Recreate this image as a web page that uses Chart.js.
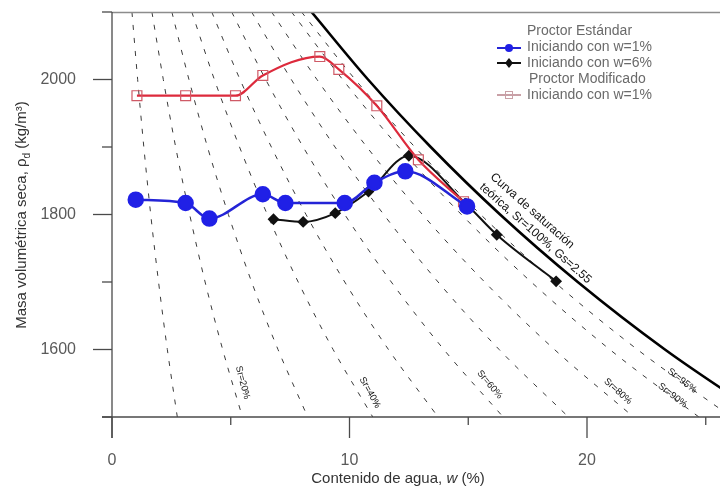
<!DOCTYPE html>
<html><head><meta charset="utf-8">
<script src="https://cdn.jsdelivr.net/npm/chart.js@4/dist/chart.umd.min.js"></script>
<style>html,body{margin:0;padding:0;background:#fff;}#wrap{width:720px;height:491px;position:relative;}</style>
</head><body><div id="wrap"><canvas id="c" width="720" height="491"></canvas></div>
<script>
// ---- data ----
const densityLevels = [2100, 2000, 1900, 1800, 1700, 1600, 1500];
const wSr10  = [0.84, 1.08, 1.34, 1.63, 1.96, 2.33, 2.75];
const wSr20  = [1.68, 2.16, 2.68, 3.27, 3.92, 4.66, 5.49];
const wSr30  = [2.52, 3.24, 4.02, 4.90, 5.88, 6.99, 8.24];
const wSr40  = [3.36, 4.31, 5.37, 6.54, 7.84, 9.31, 10.98];
const wSr50  = [4.20, 5.39, 6.71, 8.17, 9.80, 11.64, 13.73];
const wSr60  = [5.04, 6.47, 8.05, 9.80, 11.76, 13.97, 16.47];
const wSr70  = [5.88, 7.55, 9.39, 11.44, 13.73, 16.30, 19.22];
const wSr80  = [6.72, 8.63, 10.73, 13.07, 15.69, 18.63, 21.96];
const wSr90  = [7.56, 9.71, 12.07, 14.71, 17.65, 20.96, 24.71];
const wSr95  = [7.98, 10.24, 12.75, 15.52, 18.63, 22.12, 26.08];
const wSr100 = [8.40, 10.78, 13.42, 16.34, 19.61, 23.28, 27.45];

const stdW1Water   = [1.0, 3.1, 4.1, 6.35, 7.3, 9.8, 11.05, 12.35, 14.95];
const stdW1Density = [1822, 1817, 1794, 1830, 1817, 1817, 1847, 1864, 1812];
const stdW6Water   = [6.8, 8.05, 9.4, 10.8, 12.5, 14.9, 16.2, 18.7];
const stdW6Density = [1793, 1789, 1802, 1834, 1887, 1816, 1770, 1701];
const modW1Water   = [1.05, 3.1, 5.2, 6.35, 8.75, 9.55, 11.15, 12.9, 14.8];
const modW1Density = [1976, 1976, 1976, 2006, 2034, 2015, 1961, 1881, 1819];

const xTickValues = [0, 5, 10, 15, 20, 25];
const xTickLabels = [0, 10, 20];
const yTickValues = [1500, 1600, 1700, 1800, 1900, 2000, 2100];
const yTickLabels = [1600, 1800, 2000];

const dashedCurves = [wSr10, wSr20, wSr30, wSr40, wSr50, wSr60, wSr70, wSr80, wSr90, wSr95];
const srLabels = ['Sr=20%', 'Sr=40%', 'Sr=60%', 'Sr=80%', 'Sr=90%', 'Sr=95%'];

// ---- helpers ----
function pts(xs, ys) { return xs.map((v, i) => ({ x: v, y: ys[i] })); }
const FONT = '"Liberation Sans", Arial, sans-serif';

const datasets = [];
datasets.push({
  label: 'Iniciando con w=1% (Estándar)', data: pts(stdW1Water, stdW1Density), showLine: true,
  borderColor: '#2424d6', backgroundColor: '#2020e6', pointBorderColor: '#2020e6',
  borderWidth: 2.5, pointRadius: 7, pointStyle: 'circle', cubicInterpolationMode: 'monotone', order: 1
});
datasets.push({
  label: 'Iniciando con w=1% (Modificado)', data: pts(modW1Water, modW1Density), showLine: true,
  borderColor: '#dd2a3c', backgroundColor: 'rgba(255,255,255,0)', pointBorderColor: '#cf5a66',
  pointBorderWidth: 1.2, borderWidth: 2.2, pointRadius: 7, pointStyle: 'rect', cubicInterpolationMode: 'monotone', order: 2
});
datasets.push({
  label: 'Iniciando con w=6%', data: pts(stdW6Water, stdW6Density), showLine: true,
  borderColor: '#111', backgroundColor: '#111', pointBorderColor: '#111',
  borderWidth: 2, pointRadius: 4.5, pointStyle: 'rectRot', cubicInterpolationMode: 'monotone', order: 3
});
datasets.push({
  label: 'Sr=100%', data: pts(wSr100, densityLevels), showLine: true,
  borderColor: '#000', borderWidth: 2.6, pointRadius: 0, cubicInterpolationMode: 'monotone', order: 4
});
dashedCurves.forEach((ws, i) => {
  datasets.push({
    label: 'Sr' + i, data: pts(ws, densityLevels), showLine: true,
    borderColor: '#3a3a3a', borderWidth: 1, borderDash: [5, 8], pointRadius: 0,
    cubicInterpolationMode: 'monotone', order: 5
  });
});

const custom = {
  id: 'custom',
  afterDraw(chart) {
    const { ctx, chartArea: a, scales: { x, y } } = chart;
    ctx.save();
    // frame top
    ctx.strokeStyle = '#8c8c8c'; ctx.lineWidth = 1.5;
    ctx.beginPath(); ctx.moveTo(a.left, a.top + 0.5); ctx.lineTo(a.right, a.top + 0.5); ctx.stroke();
    // axes
    ctx.strokeStyle = '#4a4a4a'; ctx.lineWidth = 1.3;
    ctx.beginPath(); ctx.moveTo(a.left, a.top); ctx.lineTo(a.left, a.bottom + 21); ctx.stroke();
    ctx.beginPath(); ctx.moveTo(a.left - 10, a.bottom); ctx.lineTo(a.right, a.bottom); ctx.stroke();
    xTickValues.forEach(v => {
      const px = x.getPixelForValue(v);
      const len = xTickLabels.includes(v) ? 21 : 8;
      ctx.beginPath(); ctx.moveTo(px, a.bottom); ctx.lineTo(px, a.bottom + len); ctx.stroke();
    });
    yTickValues.forEach(v => {
      const py = y.getPixelForValue(v);
      const len = yTickLabels.includes(v) ? 19 : 10;
      ctx.beginPath(); ctx.moveTo(a.left - len, py); ctx.lineTo(a.left, py); ctx.stroke();
    });

    // axis titles
    ctx.fillStyle = '#333';
    ctx.textBaseline = 'middle';
    const t1 = 'Contenido de agua, ', t2 = 'w', t3 = ' (%)';
    ctx.font = '15px ' + FONT; const w1 = ctx.measureText(t1).width, w3 = ctx.measureText(t3).width;
    ctx.font = 'italic 15px ' + FONT; const w2 = ctx.measureText(t2).width;
    let sx = 398 - (w1 + w2 + w3) / 2;
    ctx.textAlign = 'left';
    ctx.font = '15px ' + FONT; ctx.fillText(t1, sx, 479);
    ctx.font = 'italic 15px ' + FONT; ctx.fillText(t2, sx + w1, 479);
    ctx.font = '15px ' + FONT; ctx.fillText(t3, sx + w1 + w2, 479);

    ctx.save();
    ctx.translate(22, 215); ctx.rotate(-Math.PI / 2);
    const y1 = 'Masa volumétrica seca, ', y2 = 'ρ', y3 = 'd', y4 = ' (kg/m³)';
    ctx.font = '15px ' + FONT;
    const a1 = ctx.measureText(y1).width, a2 = ctx.measureText(y2).width, a4 = ctx.measureText(y4).width;
    ctx.font = '10px ' + FONT; const a3 = ctx.measureText(y3).width;
    let s = -(a1 + a2 + a3 + a4) / 2;
    ctx.font = '15px ' + FONT; ctx.fillText(y1, s, 0); ctx.fillText(y2, s + a1, 0);
    ctx.font = '10px ' + FONT; ctx.fillText(y3, s + a1 + a2, 5);
    ctx.font = '15px ' + FONT; ctx.fillText(y4, s + a1 + a2 + a3, 0);
    ctx.restore();

    // saturation curve label
    ctx.fillStyle = '#111'; ctx.font = '12px ' + FONT; ctx.textAlign = 'left';
    [[16.0, 1858, 'Curva de saturación'], [15.55, 1843, 'teórica, Sr=100%, Gs=2.55']].forEach(([wv, rv, txt]) => {
      ctx.save();
      ctx.translate(x.getPixelForValue(wv), y.getPixelForValue(rv));
      ctx.rotate(41.5 * Math.PI / 180);
      ctx.fillText(txt, 0, 0);
      ctx.restore();
    });

    // Sr labels
    ctx.font = '9.5px ' + FONT; ctx.textAlign = 'center'; ctx.fillStyle = '#111';
    const spots = [[5.5, 1551, 75], [10.86, 1536, 61], [15.9, 1548, 50], [21.3, 1538, 42], [23.6, 1532, 38], [24.0, 1554, 38]];
    spots.forEach(([wv, rv, ang], i) => {
      ctx.save();
      ctx.translate(x.getPixelForValue(wv), y.getPixelForValue(rv));
      ctx.rotate(ang * Math.PI / 180);
      ctx.fillText(srLabels[i], 0, 0);
      ctx.restore();
    });

    // legend
    ctx.font = '14px ' + FONT; ctx.textAlign = 'left'; ctx.fillStyle = '#6a6a6a';
    ctx.fillText('Proctor Estándar', 527, 31);
    ctx.fillText('Iniciando con w=1%', 527, 47);
    ctx.fillText('Iniciando con w=6%', 527, 63);
    ctx.fillText('Proctor Modificado', 529, 79);
    ctx.fillText('Iniciando con w=1%', 527, 95);
    ctx.lineWidth = 2;
    ctx.strokeStyle = '#2424d6'; ctx.beginPath(); ctx.moveTo(497, 48); ctx.lineTo(521, 48); ctx.stroke();
    ctx.fillStyle = '#2020e6'; ctx.beginPath(); ctx.arc(509, 48, 4, 0, Math.PI * 2); ctx.fill();
    ctx.strokeStyle = '#111'; ctx.beginPath(); ctx.moveTo(497, 63); ctx.lineTo(521, 63); ctx.stroke();
    ctx.fillStyle = '#111'; ctx.beginPath(); ctx.moveTo(509, 58); ctx.lineTo(513, 63); ctx.lineTo(509, 68); ctx.lineTo(505, 63); ctx.closePath(); ctx.fill();
    ctx.strokeStyle = '#c9a0a6'; ctx.beginPath(); ctx.moveTo(497, 95); ctx.lineTo(521, 95); ctx.stroke();
    ctx.lineWidth = 1; ctx.strokeRect(505.5, 91.5, 7, 7);
    ctx.restore();
  }
};

new Chart(document.getElementById('c'), {
  type: 'scatter',
  data: { datasets },
  options: {
    responsive: false, animation: false,
    layout: { autoPadding: false, padding: { top: 12, left: 0, right: 0, bottom: 0 } },
    plugins: { legend: { display: false }, tooltip: { enabled: false } },
    scales: {
      x: {
        type: 'linear', min: 0, max: 25.6,
        grid: { display: true, drawOnChartArea: false, color: 'rgba(0,0,0,0)', tickLength: 21 },
        border: { display: false },
        afterBuildTicks: s => { s.ticks = xTickValues.map(v => ({ value: v })); },
        afterFit: s => { s.height = 74; s.paddingLeft = 0; s.paddingRight = 0; s.paddingTop = 0; s.paddingBottom = 0; },
        ticks: { autoSkip: false, maxRotation: 0, padding: 13, color: '#5a5a5a', font: { size: 16, family: FONT },
          callback: v => xTickLabels.includes(v) ? String(v) : '' }
      },
      y: {
        type: 'linear', min: 1500, max: 2100,
        grid: { display: true, drawOnChartArea: false, color: 'rgba(0,0,0,0)', tickLength: 18 },
        border: { display: false },
        afterBuildTicks: s => { s.ticks = yTickValues.map(v => ({ value: v })); },
        afterFit: s => { s.width = 112; s.paddingLeft = 0; s.paddingRight = 0; s.paddingTop = 0; s.paddingBottom = 0; },
        ticks: { autoSkip: false, padding: 18, color: '#5a5a5a', font: { size: 16, family: FONT },
          callback: v => yTickLabels.includes(v) ? String(v) : '' }
      }
    }
  },
  plugins: [custom]
});
</script></body></html>
